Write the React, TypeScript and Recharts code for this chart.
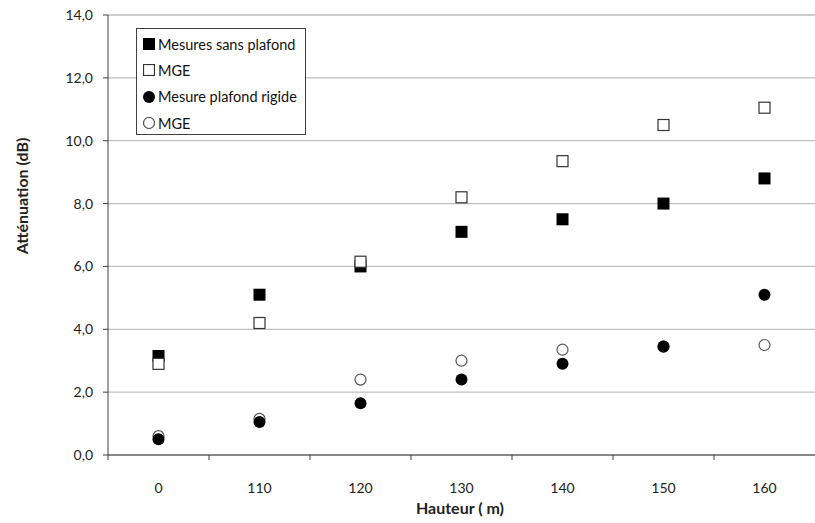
import { ComposedChart, Scatter, XAxis, YAxis, CartesianGrid, Label } from 'recharts';

// Hauteurs mesurées (catégories de l'axe X)
const hauteurs = ['0', '110', '120', '130', '140', '150', '160'];

// Atténuation en dB
const mesuresSansPlafond = [3.15, 5.1, 6.0, 7.1, 7.5, 8.0, 8.8];
const mgeSansPlafond = [2.9, 4.2, 6.15, 8.2, 9.35, 10.5, 11.05];
const mesurePlafondRigide = [0.5, 1.05, 1.65, 2.4, 2.9, 3.45, 5.1];
const mgePlafondRigide = [0.6, 1.15, 2.4, 3.0, 3.35, 3.45, 3.5];

const yTicks = [0, 2, 4, 6, 8, 10, 12, 14];

const W = 815;
const H = 523;
const PLOT_LEFT = 108;
const PLOT_TOP = 15;
const PLOT_BOTTOM = 455;
const BAND = (W - PLOT_LEFT) / hauteurs.length;

const FONT = 'Lato, "Open Sans", sans-serif';

const data = hauteurs.map((h, i) => ({
  h,
  sansPlafond: mesuresSansPlafond[i],
  mgeSans: mgeSansPlafond[i],
  rigide: mesurePlafondRigide[i],
  mgeRigide: mgePlafondRigide[i],
}));

type Kind = 'squareFilled' | 'squareOpen' | 'circleFilled' | 'circleOpen';

function Marker({ cx, cy, kind }: { cx: number; cy: number; kind: Kind }) {
  if (cx == null || cy == null) return null;
  if (kind === 'squareFilled') {
    return <rect x={cx - 6} y={cy - 6} width={12} height={12} fill="#000" />;
  }
  if (kind === 'squareOpen') {
    return <rect x={cx - 5.5} y={cy - 5.5} width={11} height={11} fill="#fff" stroke="#333" strokeWidth={1.2} />;
  }
  if (kind === 'circleFilled') {
    return <circle cx={cx} cy={cy} r={6} fill="#000" />;
  }
  return <circle cx={cx} cy={cy} r={5.5} fill="#fff" stroke="#555" strokeWidth={1.2} />;
}

const series: { key: string; name: string; kind: Kind }[] = [
  { key: 'sansPlafond', name: 'Mesures sans plafond', kind: 'squareFilled' },
  { key: 'mgeSans', name: 'MGE', kind: 'squareOpen' },
  { key: 'mgeRigide', name: 'MGE', kind: 'circleOpen' },
  { key: 'rigide', name: 'Mesure plafond rigide', kind: 'circleFilled' },
];

const legendOrder = [0, 1, 3, 2];

// Étiquette de catégorie au centre, graduation entre les catégories
function XTick(props: any) {
  const { x, payload } = props;
  const bx = x - BAND / 2;
  return (
    <g>
      <line x1={bx} y1={PLOT_BOTTOM} x2={bx} y2={PLOT_BOTTOM + 5} stroke="#404040" />
      <text x={x} y={493} textAnchor="middle" fontSize={14} fill="#222" fontFamily={FONT}>
        {payload.value}
      </text>
    </g>
  );
}

export default function App() {
  return (
    <div style={{ position: 'absolute', left: 0, top: 0, width: W, height: H, background: '#fff' }}>
      <ComposedChart
        width={W}
        height={H}
        data={data}
        margin={{ top: PLOT_TOP, right: 0, bottom: 0, left: 48 }}
      >
        <CartesianGrid vertical={false} stroke="#bfbfbf" strokeWidth={1.3} />
        <XAxis
          dataKey="h"
          type="category"
          height={H - PLOT_BOTTOM}
          padding={{ left: BAND / 2, right: BAND / 2 }}
          axisLine={{ stroke: '#404040' }}
          tickLine={false}
          tick={<XTick />}
          interval={0}
        >
          <Label
            content={() => (
              <text x={460} y={514} textAnchor="middle" fontSize={16} fontWeight="bold" fill="#222" fontFamily={FONT}>
                Hauteur ( m)
              </text>
            )}
          />
        </XAxis>
        <YAxis
          width={60}
          domain={[0, 14]}
          ticks={yTicks}
          interval={0}
          allowDataOverflow
          axisLine={{ stroke: '#404040' }}
          tickLine={{ stroke: '#404040' }}
          tickSize={5}
          tickMargin={10}
          tickFormatter={(v: number) => v.toFixed(1).replace('.', ',')}
          tick={{ fontSize: 14, fill: '#222', fontFamily: FONT }}
        >
          <Label
            content={() => (
              <text
                x={28}
                y={196}
                transform="rotate(-90 28 196)"
                textAnchor="middle"
                fontSize={16}
                fontWeight="bold"
                fill="#222"
                fontFamily={FONT}
              >
                Atténuation (dB)
              </text>
            )}
          />
        </YAxis>
        {series.map((s) => (
          <Scatter
            key={s.key + s.kind}
            name={s.name}
            dataKey={s.key}
            isAnimationActive={false}
            shape={(p: any) => <Marker cx={p.cx} cy={p.cy} kind={s.kind} />}
          />
        ))}
      </ComposedChart>
      <div
        style={{
          position: 'absolute',
          left: 136,
          top: 28,
          width: 170,
          height: 107,
          border: '1px solid #404040',
          background: '#fff',
          fontFamily: FONT,
          fontSize: 14.5,
          color: '#111',
          boxSizing: 'border-box',
          paddingTop: 2,
        }}
      >
        {legendOrder.map((idx) => {
          const s = series[idx];
          return (
            <div key={idx} style={{ display: 'flex', alignItems: 'center', height: 26.3, paddingLeft: 6 }}>
              <svg width={12} height={12} style={{ marginRight: 3 }}>
                <Marker cx={6} cy={6} kind={s.kind} />
              </svg>
              <span>{s.name}</span>
            </div>
          );
        })}
      </div>
    </div>
  );
}
